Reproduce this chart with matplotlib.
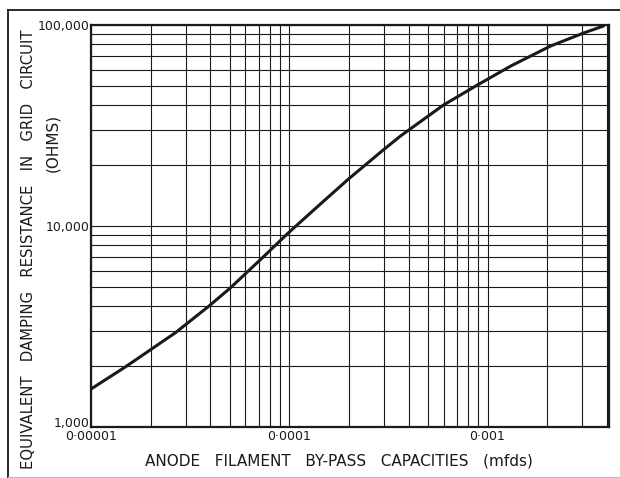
import numpy as np
import matplotlib
matplotlib.use('Agg')
import matplotlib.pyplot as plt
import matplotlib.transforms as mtransforms
from matplotlib.ticker import FixedLocator, FixedFormatter, LogLocator, NullFormatter
from matplotlib.lines import Line2D

# values (capacity in mfds, resistance in ohms)
capacity = [1e-5, 1.49e-5, 2.66e-5, 3.94e-5, 5.04e-5, 7.39e-5, 9.88e-5,
            1.40e-4, 1.99e-4, 2.98e-4, 3.64e-4, 6.0e-4, 8.9e-4, 1.31e-3,
            2.08e-3, 3.05e-3, 3.85e-3]
resistance = [1545, 1990, 2940, 4000, 4915, 7010, 9230,
              12580, 17130, 23900, 28040, 40000, 50300, 62500,
              78600, 91200, 98900]

xticks = [1e-5, 1e-4, 1e-3]
xtick_labels = ['0·00001', '0·0001', '0·001']
yticks = [1e3, 1e4, 1e5]
ytick_labels = ['1,000', '10,000', '100,000']

plt.rcParams['font.family'] = ['DejaVu Sans']
ink = '#1a1a1a'

fig = plt.figure(figsize=(6.2, 4.78), dpi=100)
ax = fig.add_axes([91/620, 51/478, 518/620, 402/478])

ax.plot(capacity, resistance, color=ink, lw=2.2, solid_capstyle='round')

ax.set_xscale('log')
ax.set_yscale('log')
ax.set_xlim(1e-5, 4.1e-3)
ax.set_ylim(1e3, 1e5)

ax.xaxis.set_major_locator(FixedLocator(xticks))
ax.xaxis.set_major_formatter(FixedFormatter(xtick_labels))
ax.yaxis.set_major_locator(FixedLocator(yticks))
ax.yaxis.set_major_formatter(FixedFormatter(ytick_labels))
for axis in (ax.xaxis, ax.yaxis):
    axis.set_minor_locator(LogLocator(base=10, subs=range(2, 10)))
    axis.set_minor_formatter(NullFormatter())

ax.grid(True, which='both', color=ink, lw=0.8)
ax.tick_params(which='both', length=0)
ax.tick_params(axis='x', pad=2, labelsize=9, colors=ink)
ax.tick_params(axis='y', pad=1, labelsize=9, colors=ink)
for s in ax.spines.values():
    s.set_linewidth(1.6)
    s.set_color(ink)

# the bottom "1,000" sits a little above its gridline in the original
fig.canvas.draw()
lbl = ax.yaxis.get_majorticklabels()[0]
lbl.set_transform(lbl.get_transform() + mtransforms.ScaledTranslation(0, 5/100, fig.dpi_scale_trans))

fig.text(339/620, 1 - 461/478, 'ANODE   FILAMENT   BY-PASS   CAPACITIES   (mfds)',
         ha='center', va='center', fontsize=11, color=ink)
fig.text(29/620, 1 - 249/478,
         'EQUIVALENT   DAMPING   RESISTANCE   IN   GRID   CIRCUIT',
         rotation=90, ha='center', va='center', fontsize=10.7, color=ink)
fig.text(53/620, 1 - 143/478, '(OHMS)', rotation=90,
         ha='center', va='center', fontsize=11, color=ink)

# outer frame of the printed figure
fig.add_artist(Line2D([8/620, 8/620], [0, 1 - 10/478], color=ink, lw=1.3))
fig.add_artist(Line2D([8/620, 1], [1 - 10/478, 1 - 10/478], color=ink, lw=1.3))
fig.add_artist(Line2D([8/620, 1], [1/478, 1/478], color='#bbbbbb', lw=0.8))

fig.savefig('out.png', dpi=100)
